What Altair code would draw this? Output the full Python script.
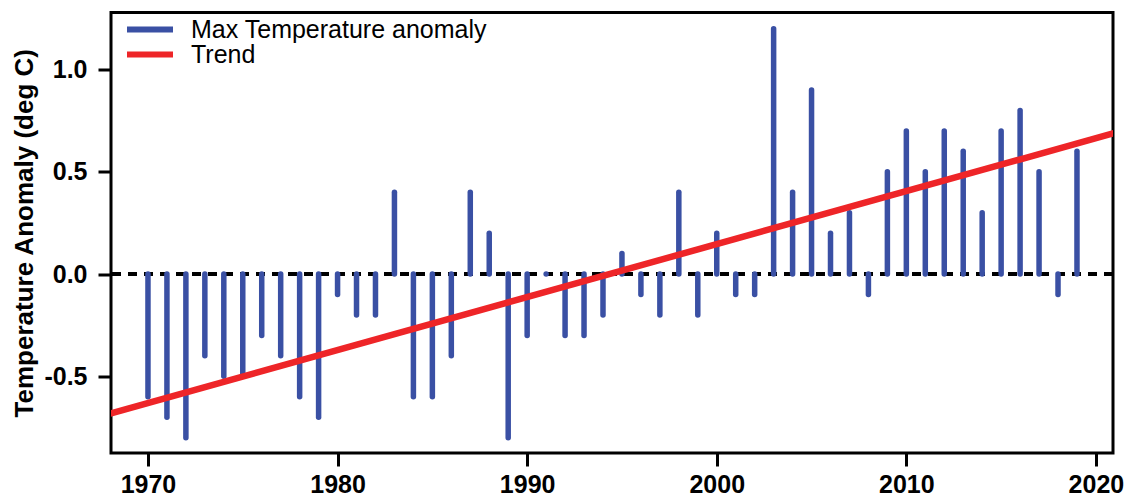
import altair as alt
import pandas as pd

years = list(range(1970, 2020))
anomaly = [
    -0.6, -0.7, -0.8, -0.4, -0.5, -0.5, -0.3, -0.4, -0.6, -0.7,
    -0.1, -0.2, -0.2, 0.4, -0.6, -0.6, -0.4, 0.4, 0.2, -0.8,
    -0.3, 0.0, -0.3, -0.3, -0.2, 0.1, -0.1, -0.2, 0.4, -0.2,
    0.2, -0.1, -0.1, 1.2, 0.4, 0.9, 0.2, 0.3, -0.1, 0.5,
    0.7, 0.5, 0.7, 0.6, 0.3, 0.7, 0.8, 0.5, -0.1, 0.6,
]
x_ticks = [1970, 1980, 1990, 2000, 2010, 2020]
y_ticks = [-0.5, 0.0, 0.5, 1.0]
series_names = ["Max Temperature anomaly", "Trend"]
series_colors = ["#3a50a4", "#ee2528"]

df = pd.DataFrame({"year": years, "anomaly": anomaly})

FONT = "Liberation Sans"
xdom = [1968.05, 2020.9]
ydom = [-0.875, 1.279]

xscale = alt.Scale(domain=xdom, nice=False, zero=False)
yscale = alt.Scale(domain=ydom, nice=False, zero=False)

xaxis = alt.Axis(
    values=x_ticks, format="d", title=None, grid=False, domain=False,
    ticks=True, tickSize=13, tickWidth=3, tickColor="black",
    labelFont=FONT, labelFontSize=25, labelFontWeight="bold",
    labelColor="black", labelPadding=6, labelFlush=False,
)
yaxis = alt.Axis(
    values=y_ticks, title="Temperature Anomaly (deg C)", grid=False,
    domain=False, ticks=True, tickSize=13, tickWidth=3, tickColor="black",
    labelExpr="datum.value < 0 ? '-' + format(-datum.value, '.1f') : format(datum.value, '.1f')",
    labelFont=FONT, labelFontSize=25, labelFontWeight="bold",
    labelColor="black", labelPadding=11, labelFlush=False,
    titleFont=FONT, titleFontSize=26, titleFontWeight="bold",
    titleColor="black", titlePadding=6,
)

color = alt.Color(
    "series:N",
    scale=alt.Scale(domain=series_names, range=series_colors),
    legend=alt.Legend(
        title=None,
        orient="none",
        legendX=13,
        legendY=5,
        symbolType="stroke",
        symbolSize=2116,
        symbolStrokeWidth=6,
        labelFontSize=25,
        labelFont=FONT,
        labelColor="black",
        labelOffset=15,
        labelLimit=0,
        clipHeight=24,
        rowPadding=0,
        padding=0,
    ),
)

base = alt.Chart(df)

bars = base.mark_rule(strokeWidth=5.5, strokeCap="round").transform_calculate(
    series="'Max Temperature anomaly'", zero="0"
).encode(
    x=alt.X("year:Q", scale=xscale, axis=xaxis),
    y=alt.Y("anomaly:Q", scale=yscale, axis=yaxis),
    y2="zero:Q",
    color=color,
)

zero_line = base.mark_rule(
    color="black", strokeWidth=2.5, strokeDash=[9, 7]
).encode(y=alt.datum(0, scale=yscale, axis=yaxis))

trend = base.transform_regression(
    "year", "anomaly", extent=[1967.5, 2021.5]
).transform_calculate(series="'Trend'").mark_line(
    strokeWidth=6.5, clip=True
).encode(
    x=alt.X("year:Q", scale=xscale, axis=xaxis),
    y=alt.Y("anomaly:Q", scale=yscale, axis=yaxis),
    color=color,
)

chart = alt.layer(zero_line, bars, trend).properties(
    width=1002,
    height=440.5,
    background="white",
    autosize=alt.AutoSizeParams(type="none"),
    padding={"left": 103, "top": 4.5, "right": 13, "bottom": 43},
).configure_view(
    stroke="black", strokeWidth=3
)

chart.save("out.html", embed_options={"renderer": "svg", "actions": False})
